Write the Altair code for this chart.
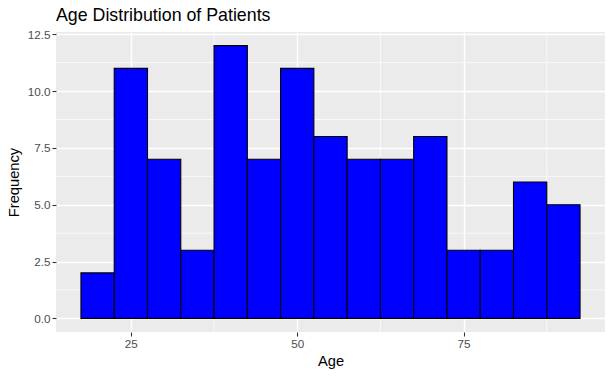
import altair as alt
import pandas as pd

bin_left = [17.5, 22.5, 27.5, 32.5, 37.5, 42.5, 47.5, 52.5, 57.5, 62.5, 67.5, 72.5, 77.5, 82.5, 87.5]
bin_right = [22.5, 27.5, 32.5, 37.5, 42.5, 47.5, 52.5, 57.5, 62.5, 67.5, 72.5, 77.5, 82.5, 87.5, 92.5]
counts = [2, 11, 7, 3, 12, 7, 11, 8, 7, 7, 8, 3, 3, 6, 5]

x_major = [25, 50, 75]
x_minor = [37.5, 62.5, 87.5]
y_major = [0, 2.5, 5, 7.5, 10, 12.5]
y_minor = [1.25, 3.75, 6.25, 8.75, 11.25]

df = pd.DataFrame({"left": bin_left, "right": bin_right, "count": counts})

FONT = "Liberation Sans"
xscale = alt.Scale(domain=[13.75, 96.25], nice=False, zero=False)
yscale = alt.Scale(domain=[-0.6, 12.6], nice=False, zero=False)

xaxis = alt.Axis(values=x_major, title="Age", grid=True, gridColor="white", gridWidth=1.4,
                 domain=False, tickColor="#333333", tickSize=4, tickWidth=1.1,
                 labelColor="#4D4D4D", labelFont=FONT, labelFontSize=11.7, labelPadding=2,
                 titleFont=FONT, titleFontSize=14.7, titleFontWeight="normal", titleColor="black",
                 titlePadding=4)
yaxis = alt.Axis(values=y_major, title="Frequency", grid=True, gridColor="white", gridWidth=1.4,
                 domain=False, tickColor="#333333", tickSize=4, tickWidth=1.1, format=".1f",
                 labelColor="#4D4D4D", labelFont=FONT, labelFontSize=11.7, labelPadding=2,
                 titleFont=FONT, titleFontSize=14.7, titleFontWeight="normal", titleColor="black",
                 titlePadding=6)

minx = alt.Chart(pd.DataFrame({"v": x_minor})).mark_rule(color="white", strokeWidth=0.7).encode(
    x=alt.X("v:Q", scale=xscale, axis=xaxis))
miny = alt.Chart(pd.DataFrame({"v": y_minor})).mark_rule(color="white", strokeWidth=0.7).encode(
    y=alt.Y("v:Q", scale=yscale, axis=yaxis))

bars = alt.Chart(df).mark_rect(color="#0000FF", stroke="black", strokeWidth=1.1).encode(
    x=alt.X("left:Q", scale=xscale, axis=xaxis),
    x2="right:Q",
    y=alt.Y("count:Q", scale=yscale, axis=yaxis),
    y2=alt.datum(0),
)

chart = alt.layer(minx, miny, bars).properties(
    width=549, height=300,
    autosize=alt.AutoSizeParams(type="none"),
    padding={"left": 56, "top": 32, "right": 8, "bottom": 45},
    title=alt.TitleParams("Age Distribution of Patients", anchor="start", frame="group", font=FONT,
                          fontSize=17.8, fontWeight="normal", color="black", offset=4),
    background="white",
).configure_view(fill="#EBEBEB", stroke=None)

chart.save("out.html", embed_options={"renderer": "svg", "actions": False})
